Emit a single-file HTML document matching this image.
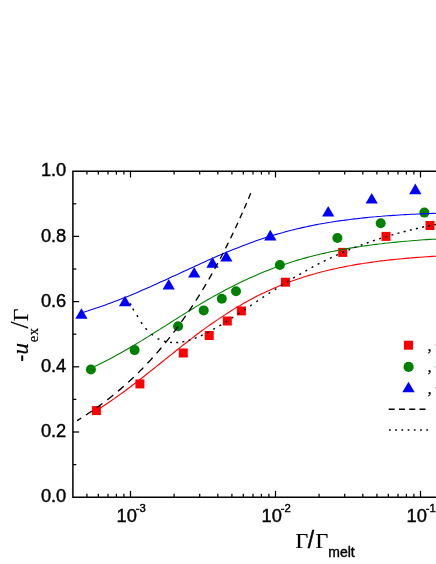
<!DOCTYPE html>
<html><head><meta charset="utf-8"><title>chart</title>
<style>
html,body{margin:0;padding:0;background:#fff;}
body{width:436px;height:564px;overflow:hidden;}
svg{display:block;will-change:transform;}
text{font-family:"Liberation Sans",sans-serif;fill:#000;stroke:#000;stroke-width:0.4px;}
.serif{font-family:"Liberation Serif",serif;stroke-width:0.2px;}
</style></head><body>
<svg width="436" height="564" viewBox="0 0 436 564">
<rect width="436" height="564" fill="#fff"/>

<path d="M81.4,308.2 L87.5,318.8 L75.3,318.8Z" fill="#0000ff"/>
<path d="M125.0,295.7 L131.1,306.3 L118.9,306.3Z" fill="#0000ff"/>
<path d="M168.7,278.9 L174.8,289.5 L162.6,289.5Z" fill="#0000ff"/>
<path d="M194.2,267.0 L200.3,277.6 L188.1,277.6Z" fill="#0000ff"/>
<path d="M212.5,257.1 L218.6,267.7 L206.4,267.7Z" fill="#0000ff"/>
<path d="M226.3,250.9 L232.4,261.5 L220.2,261.5Z" fill="#0000ff"/>
<path d="M270.3,229.8 L276.4,240.4 L264.2,240.4Z" fill="#0000ff"/>
<path d="M328.2,205.9 L334.3,216.5 L322.1,216.5Z" fill="#0000ff"/>
<path d="M371.7,192.9 L377.8,203.5 L365.6,203.5Z" fill="#0000ff"/>
<path d="M415.3,183.6 L421.4,194.2 L409.2,194.2Z" fill="#0000ff"/>
<circle cx="90.9" cy="369.5" r="5.0" fill="#008000"/>
<circle cx="134.6" cy="350.1" r="5.0" fill="#008000"/>
<circle cx="178.1" cy="326.2" r="5.0" fill="#008000"/>
<circle cx="203.7" cy="310.4" r="5.0" fill="#008000"/>
<circle cx="221.8" cy="298.7" r="5.0" fill="#008000"/>
<circle cx="236.0" cy="291.2" r="5.0" fill="#008000"/>
<circle cx="279.9" cy="265.0" r="5.0" fill="#008000"/>
<circle cx="337.4" cy="238.0" r="5.0" fill="#008000"/>
<circle cx="380.7" cy="223.2" r="5.0" fill="#008000"/>
<circle cx="424.4" cy="212.6" r="5.0" fill="#008000"/>
<rect x="91.9" y="406.1" width="9.0" height="9.0" fill="#ff0000"/>
<rect x="135.4" y="379.4" width="9.0" height="9.0" fill="#ff0000"/>
<rect x="178.8" y="348.5" width="9.0" height="9.0" fill="#ff0000"/>
<rect x="204.7" y="331.0" width="9.0" height="9.0" fill="#ff0000"/>
<rect x="222.8" y="316.5" width="9.0" height="9.0" fill="#ff0000"/>
<rect x="236.9" y="306.4" width="9.0" height="9.0" fill="#ff0000"/>
<rect x="280.9" y="277.7" width="9.0" height="9.0" fill="#ff0000"/>
<rect x="338.2" y="247.9" width="9.0" height="9.0" fill="#ff0000"/>
<rect x="381.5" y="231.9" width="9.0" height="9.0" fill="#ff0000"/>
<rect x="425.5" y="221.0" width="9.0" height="9.0" fill="#ff0000"/>
<g fill="none" stroke-width="1.1">
<path d="M81.4,313.0 L84.4,312.0 L87.4,311.1 L90.4,310.1 L93.4,309.1 L96.4,308.1 L99.4,307.1 L102.4,306.0 L105.4,304.9 L108.4,303.8 L111.4,302.7 L114.4,301.6 L117.4,300.4 L120.4,299.3 L123.4,298.1 L126.4,296.9 L129.4,295.7 L132.4,294.4 L135.4,293.2 L138.4,291.9 L141.4,290.6 L144.4,289.3 L147.4,288.0 L150.4,286.7 L153.4,285.3 L156.4,284.0 L159.4,282.6 L162.4,281.3 L165.4,279.9 L168.4,278.5 L171.4,277.1 L174.4,275.7 L177.4,274.4 L180.4,273.0 L183.4,271.6 L186.4,270.2 L189.4,268.8 L192.4,267.4 L195.4,266.0 L198.4,264.7 L201.4,263.3 L204.4,261.9 L207.4,260.6 L210.4,259.2 L213.4,257.9 L216.4,256.6 L219.4,255.3 L222.4,254.0 L225.4,252.7 L228.4,251.5 L231.4,250.3 L234.4,249.1 L237.4,247.9 L240.4,246.7 L243.4,245.5 L246.4,244.4 L249.4,243.3 L252.4,242.2 L255.4,241.1 L258.4,240.1 L261.4,239.1 L264.4,238.1 L267.4,237.1 L270.4,236.2 L273.4,235.3 L276.4,234.4 L279.4,233.5 L282.4,232.7 L285.4,231.8 L288.4,231.0 L291.4,230.3 L294.4,229.5 L297.4,228.8 L300.4,228.1 L303.4,227.4 L306.4,226.8 L309.4,226.1 L312.4,225.5 L315.4,224.9 L318.4,224.3 L321.4,223.8 L324.4,223.3 L327.4,222.7 L330.4,222.3 L333.4,221.8 L336.4,221.3 L339.4,220.9 L342.4,220.5 L345.4,220.1 L348.4,219.7 L351.4,219.3 L354.4,218.9 L357.4,218.6 L360.4,218.2 L363.4,217.9 L366.4,217.6 L369.4,217.3 L372.4,217.0 L375.4,216.8 L378.4,216.5 L381.4,216.3 L384.4,216.0 L387.4,215.8 L390.4,215.6 L393.4,215.4 L396.4,215.2 L399.4,215.0 L402.4,214.8 L405.4,214.6 L408.4,214.5 L411.4,214.3 L414.4,214.2 L417.4,214.0 L420.4,213.9 L423.4,213.7 L426.4,213.6 L429.4,213.5 L432.4,213.4 L435.4,213.3 L438.4,213.2 L441.4,213.1" stroke="#0000ff"/>
<path d="M90.7,368.3 L93.7,366.9 L96.7,365.5 L99.7,364.0 L102.7,362.5 L105.7,361.0 L108.7,359.5 L111.7,357.9 L114.7,356.3 L117.7,354.6 L120.7,352.9 L123.7,351.2 L126.7,349.5 L129.7,347.8 L132.7,346.0 L135.7,344.2 L138.7,342.4 L141.7,340.6 L144.7,338.7 L147.7,336.9 L150.7,335.0 L153.7,333.1 L156.7,331.2 L159.7,329.4 L162.7,327.5 L165.7,325.6 L168.7,323.7 L171.7,321.8 L174.7,319.9 L177.7,318.0 L180.7,316.1 L183.7,314.2 L186.7,312.4 L189.7,310.5 L192.7,308.7 L195.7,306.9 L198.7,305.1 L201.7,303.3 L204.7,301.5 L207.7,299.8 L210.7,298.1 L213.7,296.3 L216.7,294.7 L219.7,293.0 L222.7,291.4 L225.7,289.8 L228.7,288.2 L231.7,286.7 L234.7,285.2 L237.7,283.7 L240.7,282.2 L243.7,280.8 L246.7,279.4 L249.7,278.0 L252.7,276.7 L255.7,275.4 L258.7,274.1 L261.7,272.8 L264.7,271.6 L267.7,270.4 L270.7,269.3 L273.7,268.1 L276.7,267.0 L279.7,266.0 L282.7,264.9 L285.7,263.9 L288.7,262.9 L291.7,262.0 L294.7,261.0 L297.7,260.1 L300.7,259.3 L303.7,258.4 L306.7,257.6 L309.7,256.8 L312.7,256.0 L315.7,255.2 L318.7,254.5 L321.7,253.8 L324.7,253.1 L327.7,252.5 L330.7,251.8 L333.7,251.2 L336.7,250.6 L339.7,250.0 L342.7,249.5 L345.7,248.9 L348.7,248.4 L351.7,247.9 L354.7,247.4 L357.7,246.9 L360.7,246.5 L363.7,246.0 L366.7,245.6 L369.7,245.2 L372.7,244.8 L375.7,244.4 L378.7,244.0 L381.7,243.7 L384.7,243.3 L387.7,243.0 L390.7,242.7 L393.7,242.4 L396.7,242.1 L399.7,241.8 L402.7,241.5 L405.7,241.2 L408.7,241.0 L411.7,240.7 L414.7,240.5 L417.7,240.3 L420.7,240.0 L423.7,239.8 L426.7,239.6 L429.7,239.4 L432.7,239.2 L435.7,239.1 L438.7,238.9 L441.7,238.7" stroke="#008000"/>
<path d="M96.2,410.5 L99.2,408.6 L102.2,406.7 L105.2,404.7 L108.2,402.7 L111.2,400.7 L114.2,398.6 L117.2,396.5 L120.2,394.4 L123.2,392.2 L126.2,390.0 L129.2,387.7 L132.2,385.5 L135.2,383.2 L138.2,380.9 L141.2,378.5 L144.2,376.2 L147.2,373.8 L150.2,371.4 L153.2,369.0 L156.2,366.6 L159.2,364.2 L162.2,361.8 L165.2,359.4 L168.2,357.0 L171.2,354.6 L174.2,352.2 L177.2,349.8 L180.2,347.4 L183.2,345.0 L186.2,342.7 L189.2,340.4 L192.2,338.1 L195.2,335.8 L198.2,333.5 L201.2,331.3 L204.2,329.1 L207.2,326.9 L210.2,324.8 L213.2,322.7 L216.2,320.6 L219.2,318.6 L222.2,316.6 L225.2,314.6 L228.2,312.7 L231.2,310.8 L234.2,308.9 L237.2,307.1 L240.2,305.4 L243.2,303.6 L246.2,301.9 L249.2,300.3 L252.2,298.7 L255.2,297.1 L258.2,295.6 L261.2,294.1 L264.2,292.7 L267.2,291.2 L270.2,289.9 L273.2,288.5 L276.2,287.3 L279.2,286.0 L282.2,284.8 L285.2,283.6 L288.2,282.5 L291.2,281.3 L294.2,280.3 L297.2,279.2 L300.2,278.2 L303.2,277.2 L306.2,276.3 L309.2,275.4 L312.2,274.5 L315.2,273.7 L318.2,272.8 L321.2,272.0 L324.2,271.3 L327.2,270.5 L330.2,269.8 L333.2,269.1 L336.2,268.5 L339.2,267.8 L342.2,267.2 L345.2,266.6 L348.2,266.0 L351.2,265.5 L354.2,264.9 L357.2,264.4 L360.2,263.9 L363.2,263.5 L366.2,263.0 L369.2,262.6 L372.2,262.1 L375.2,261.7 L378.2,261.3 L381.2,260.9 L384.2,260.6 L387.2,260.2 L390.2,259.9 L393.2,259.6 L396.2,259.3 L399.2,259.0 L402.2,258.7 L405.2,258.4 L408.2,258.1 L411.2,257.9 L414.2,257.6 L417.2,257.4 L420.2,257.2 L423.2,257.0 L426.2,256.8 L429.2,256.6 L432.2,256.4 L435.2,256.2 L438.2,256.0 L441.2,255.8" stroke="#ff0000"/>
</g>
<path d="M250.70,193.32L250.18,194.58L249.57,196.04L248.96,197.49L248.43,198.75M246.62,203.01L246.09,204.24L245.49,205.65L244.88,207.05L244.25,208.49M242.36,212.79L241.84,213.97L241.14,215.53L240.53,216.89L239.88,218.34M237.90,222.68L237.32,223.95L236.62,225.46L235.93,226.95L235.31,228.28M233.24,232.67L232.63,233.95L231.93,235.40L231.24,236.84L230.52,238.32M228.35,242.74L227.67,244.10L226.89,245.67L226.20,247.05L225.50,248.43M223.22,252.89L222.55,254.19L221.76,255.70L220.98,257.19L220.22,258.64M217.83,263.13L217.07,264.53L216.29,265.97L215.51,267.40L214.65,268.95M212.12,273.51L211.34,274.89L210.47,276.42L209.60,277.93L208.76,279.40M206.07,284.00L205.25,285.37L204.30,286.97L203.43,288.42L202.50,289.95M199.65,294.59L198.74,296.05L197.78,297.57L196.83,299.08L195.87,300.58M192.84,305.26L191.87,306.72L190.83,308.29L189.79,309.85L188.83,311.27M185.62,315.95L184.57,317.45L183.53,318.93L182.49,320.40L181.38,321.95M177.98,326.62L176.93,328.04L175.80,329.55L174.67,331.04L173.49,332.59M169.90,337.22L168.76,338.66L167.54,340.18L166.33,341.69L165.19,343.09M161.42,347.63L160.24,349.02L159.03,350.45L157.81,351.86L156.51,353.35M152.58,357.77L151.29,359.19L149.99,360.61L148.69,362.02L147.46,363.33M143.35,367.62L142.08,368.92L140.69,370.33L139.39,371.64L138.01,373.00M133.73,377.15L132.35,378.46L130.96,379.76L129.57,381.05L128.16,382.34M123.71,386.34L122.27,387.59L120.79,388.87L119.32,390.13L117.91,391.32M113.28,395.15L111.84,396.30L110.28,397.55L108.80,398.71L107.27,399.90M102.47,403.54L101.07,404.57L99.59,405.65L98.12,406.72L96.57,407.82M91.87,411.10L90.47,412.05L88.99,413.04L87.51,414.03L85.95,415.05M81.24,418.07L80.22,418.71L79.09,419.41L78.04,420.05L77.00,420.69" fill="none" stroke="#000" stroke-width="1.35"/>
<path d="M130.16,303.20L131.04,305.00M132.81,308.73L133.79,310.47M136.87,315.25L137.93,316.95M141.04,322.17L142.16,323.83M145.53,328.36L146.87,329.84M151.42,333.97L152.98,335.23M157.62,338.53L159.38,339.47M163.94,341.11L165.86,341.64M170.05,342.35L172.04,342.54M176.20,342.56L178.19,342.43M182.36,341.87L184.32,341.49M188.53,340.43L190.45,339.86M194.70,338.37L196.57,337.64M200.87,335.79L202.69,334.95M207.04,332.79L208.82,331.87M213.21,329.47L214.95,328.48M219.37,325.87L221.08,324.84M225.52,322.08L227.22,321.02M231.68,318.15L233.36,317.06M237.83,314.11L239.50,313.01M243.98,310.01L245.64,308.90M250.13,305.88L251.79,304.77M256.27,301.76L257.94,300.64M262.42,297.65L264.09,296.55M268.56,293.59L270.24,292.50M274.70,289.60L276.39,288.52M280.85,285.68L282.54,284.62M286.99,281.86L288.69,280.81M293.13,278.13L294.85,277.11M299.27,274.52L301.00,273.52M305.41,271.02L307.15,270.05M311.55,267.64L313.31,266.70M317.69,264.40L319.46,263.48M323.83,261.28L325.62,260.39M329.96,258.29L331.77,257.44M336.10,255.43L337.93,254.61M342.24,252.71L344.08,251.92M348.38,250.11L350.24,249.35M354.53,247.64L356.39,246.91M360.67,245.28L362.54,244.59M366.81,243.05L368.69,242.38M372.95,240.92L374.85,240.29M379.09,238.90L381.00,238.29M385.23,236.98L387.15,236.40M391.38,235.15L393.30,234.59M397.52,233.41L399.45,232.88M403.67,231.75L405.60,231.24M409.81,230.17L411.75,229.69M415.95,228.67L417.90,228.21M422.10,227.25L424.05,226.82M428.24,225.93L430.20,225.53M434.39,224.71L436.35,224.33" fill="none" stroke="#000" stroke-width="1.45"/>
<rect x="404.0" y="340.7" width="9.0" height="9.0" fill="#ff0000"/>
<circle cx="408.6" cy="366.9" r="5.1" fill="#008000"/>
<path d="M408.5,381.7 L414.7,392.3 L402.3,392.3Z" fill="#0000ff"/>
<path d="M388.7,409.25 H425.6" fill="none" stroke="#000" stroke-width="1.4" stroke-dasharray="6.0 4.27"/>
<path d="M389.0,429.9 H428.6" fill="none" stroke="#000" stroke-width="1.5" stroke-dasharray="1.7 4.52"/>
<text class="serif" x="427.6" y="350.6" font-size="17">,</text>
<text class="serif" x="427.6" y="372.3" font-size="17">,</text>
<text class="serif" x="427.6" y="394.3" font-size="17">,</text>
<path d="M435.6,345.2H436" stroke="#ff0000" stroke-width="1.3"/><path d="M435.6,366.9H436" stroke="#008000" stroke-width="1.3"/><path d="M435.6,387.8H436" stroke="#0000ff" stroke-width="1.3"/>
<path d="M438,171.2 H72.9 V497.2 H438" stroke-linejoin="miter" stroke="#000" stroke-width="1.5" fill="none"/>
<g stroke="#000" stroke-width="1.25" fill="none" stroke-linecap="butt">
<path d="M72.9,464.6 h3.4"/>
<path d="M72.9,432.0 h6.3"/>
<path d="M72.9,399.4 h3.4"/>
<path d="M72.9,366.8 h6.3"/>
<path d="M72.9,334.2 h3.4"/>
<path d="M72.9,301.6 h6.3"/>
<path d="M72.9,269.0 h3.4"/>
<path d="M72.9,236.4 h6.3"/>
<path d="M72.9,203.8 h3.4"/>
<path d="M86.9,497.2 v-3.4"/><path d="M86.9,171.2 v3.4"/>
<path d="M98.3,497.2 v-3.4"/><path d="M98.3,171.2 v3.4"/>
<path d="M108.0,497.2 v-3.4"/><path d="M108.0,171.2 v3.4"/>
<path d="M116.4,497.2 v-3.4"/><path d="M116.4,171.2 v3.4"/>
<path d="M123.9,497.2 v-3.4"/><path d="M123.9,171.2 v3.4"/>
<path d="M130.5,497.2 v-6.3"/><path d="M130.5,171.2 v6.3"/>
<path d="M174.1,497.2 v-3.4"/><path d="M174.1,171.2 v3.4"/>
<path d="M199.7,497.2 v-3.4"/><path d="M199.7,171.2 v3.4"/>
<path d="M217.8,497.2 v-3.4"/><path d="M217.8,171.2 v3.4"/>
<path d="M231.9,497.2 v-3.4"/><path d="M231.9,171.2 v3.4"/>
<path d="M243.3,497.2 v-3.4"/><path d="M243.3,171.2 v3.4"/>
<path d="M253.0,497.2 v-3.4"/><path d="M253.0,171.2 v3.4"/>
<path d="M261.4,497.2 v-3.4"/><path d="M261.4,171.2 v3.4"/>
<path d="M268.9,497.2 v-3.4"/><path d="M268.9,171.2 v3.4"/>
<path d="M275.5,497.2 v-6.3"/><path d="M275.5,171.2 v6.3"/>
<path d="M319.1,497.2 v-3.4"/><path d="M319.1,171.2 v3.4"/>
<path d="M344.7,497.2 v-3.4"/><path d="M344.7,171.2 v3.4"/>
<path d="M362.8,497.2 v-3.4"/><path d="M362.8,171.2 v3.4"/>
<path d="M376.9,497.2 v-3.4"/><path d="M376.9,171.2 v3.4"/>
<path d="M388.3,497.2 v-3.4"/><path d="M388.3,171.2 v3.4"/>
<path d="M398.0,497.2 v-3.4"/><path d="M398.0,171.2 v3.4"/>
<path d="M406.4,497.2 v-3.4"/><path d="M406.4,171.2 v3.4"/>
<path d="M413.9,497.2 v-3.4"/><path d="M413.9,171.2 v3.4"/>
<path d="M420.5,497.2 v-6.3"/><path d="M420.5,171.2 v6.3"/>
</g>
<text x="66.3" y="502.4" font-size="18.3" text-anchor="end">0.0</text>
<text x="66.3" y="437.2" font-size="18.3" text-anchor="end">0.2</text>
<text x="66.3" y="372.0" font-size="18.3" text-anchor="end">0.4</text>
<text x="66.3" y="306.8" font-size="18.3" text-anchor="end">0.6</text>
<text x="66.3" y="241.6" font-size="18.3" text-anchor="end">0.8</text>
<text x="66.3" y="176.4" font-size="18.3" text-anchor="end">1.0</text>
<text x="116.6" y="521.8" font-size="18.3">10<tspan font-size="11.3" dy="-9.4" dx="-1.2">-3</tspan></text>
<text x="261.6" y="521.8" font-size="18.3">10<tspan font-size="11.3" dy="-9.4" dx="-1.2">-2</tspan></text>
<text x="406.6" y="521.8" font-size="18.3">10<tspan font-size="11.3" dy="-9.4" dx="-1.2">-1</tspan></text>
<text class="serif" x="295.4" y="547.5" font-size="22">Γ</text>
<text x="307.7" y="547.7" font-size="23">/</text>
<text class="serif" x="315.5" y="547.5" font-size="22">Γ</text>
<text x="328.3" y="556.9" font-size="14">melt</text>
<g transform="translate(28,361) rotate(-90)">
<text x="-0.7" y="0" font-size="21">-</text>
<text class="serif" font-style="italic" x="6.6" y="0" font-size="23">u</text>
<text class="serif" x="18.8" y="9.9" font-size="14.5" letter-spacing="0.5">ex</text>
<text class="serif" x="32.5" y="0" font-size="25">/</text>
<text class="serif" x="39.8" y="0" font-size="22">Γ</text>
</g>
</svg></body></html>
